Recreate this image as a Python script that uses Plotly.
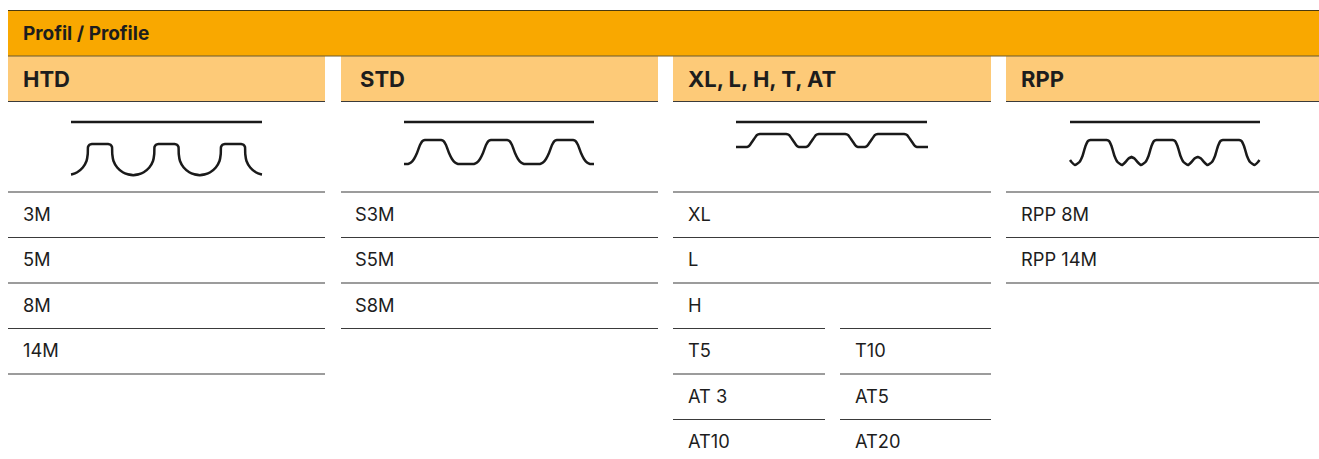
import plotly.graph_objects as go

TITLE = "Profil / Profile"
GROUPS = ["HTD", "STD", "XL, L, H, T, AT", "RPP"]
GROUP_X0 = [8, 341, 673, 1006]
GROUP_X1 = [325, 658, 991, 1319]
ROW_LINES = [192, 237.5, 283, 328.5, 374, 419.5]
ROW_TEXT_Y = [214, 259, 305, 350, 396, 441]

HTD_ROWS = ["3M", "5M", "8M", "14M"]
STD_ROWS = ["S3M", "S5M", "S8M"]
XL_ROWS = ["XL", "L", "H"]
XL_LEFT = ["T5", "AT 3", "AT10"]
XL_RIGHT = ["T10", "AT5", "AT20"]
RPP_ROWS = ["RPP 8M", "RPP 14M"]

# Tooth half profiles: offset from tooth centre, and height on the picture
HTD_DX = [0, 8, 10.5, 12, 12.25, 13.5, 17.2, 22.75, 27.8, 33.25]
HTD_Y = [144, 144, 144.8, 147, 154, 161, 167.5, 172.2, 174.3, 175.3]
HTD_TAIL_DX = [29]
HTD_TAIL_Y = [174.5]
HTD_TEETH = [100, 166.5, 233]

STD_DX = [0, 8, 10.5, 13, 16, 19, 22, 25, 33]
STD_Y = [140, 140, 141, 145, 153, 159, 162.5, 164, 164]
STD_TAIL_DX = [29]
STD_TAIL_Y = [164]
STD_TEETH = [433, 499, 565]

XL_DX = [0, 13, 16, 19, 24, 26, 29.5]
XL_Y = [134, 134, 135, 139, 146, 147, 147]
XL_TAIL_DX = [37]
XL_TAIL_Y = [147]
XL_TEETH = [773, 832, 891]

RPP_DX = [0, 8, 10.5, 13, 16, 19, 23.5, 27, 30, 33]
RPP_Y = [140, 140, 141, 146, 156, 162, 165, 162, 158.5, 157]
RPP_TAIL_DX = [28.5]
RPP_TAIL_Y = [160]
RPP_TEETH = [1098.5, 1164.5, 1231]

BELT_Y = 122
BELT_SPANS = [(71, 262), (404, 594), (736, 927), (1070, 1260)]

ORANGE = "#F9A800"
LIGHT = "#FDCA78"
DARK = "#1d1d1d"
GRID = "#3a3a3a"
FONT = "Inter"


def profile(teeth, dx, y, tail_dx, tail_y):
    xs, ys = [], []
    last = len(teeth) - 1
    for i, c in enumerate(teeth):
        keep_l = [(a, b) for a, b in zip(dx, y) if i > 0 or a < tail_dx[0]]
        keep_r = [(a, b) for a, b in zip(dx, y) if i < last or a < tail_dx[0]]
        left = [(-a, b) for a, b in keep_l]
        if i == 0:
            left += [(-a, b) for a, b in zip(tail_dx, tail_y)]
        for a, b in reversed(left):
            xs.append(c + a)
            ys.append(b)
        for a, b in keep_r[1:]:
            xs.append(c + a)
            ys.append(b)
        if i == last:
            for a, b in zip(tail_dx, tail_y):
                xs.append(c + a)
                ys.append(b)
    return xs, ys


fig = go.Figure()
shapes = []
ann = []


def hline(x0, x1, y, color=GRID, w=1.1):
    fig.add_trace(go.Scatter(x=[x0, x1], y=[y, y], mode="lines",
                             line=dict(color=color, width=w),
                             hoverinfo="skip", showlegend=False))


def label(x, y, text, size=18.3, bold=False):
    ann.append(dict(x=x - 2, y=y, text=f"<b>{text}</b>" if bold else text,
                    xref="x", yref="y", xanchor="left", yanchor="middle",
                    showarrow=False, font=dict(family=FONT, size=size, color=DARK)))


shapes.append(dict(type="rect", x0=8, x1=1319, y0=10.5, y1=56, fillcolor=ORANGE,
                   line_width=0, layer="below"))
for x0, x1 in zip(GROUP_X0, GROUP_X1):
    shapes.append(dict(type="rect", x0=x0, x1=x1, y0=56, y1=101.5, fillcolor=LIGHT,
                       line_width=0, layer="below"))
    hline(x0, x1, 101.5)
hline(8, 1319, 10.5, "#4a3a10", 1.2)
hline(8, 1319, 56, "#6b5a30", 1.2)

label(23, 33, TITLE, 19, True)
for g, x0 in zip(GROUPS, GROUP_X0):
    label(x0 + (19 if g == "STD" else 15), 79, g, 22, True)

for g, rows, x0, x1 in [(0, HTD_ROWS, 8, 325), (1, STD_ROWS, 341, 658),
                        (2, XL_ROWS, 673, 991), (3, RPP_ROWS, 1006, 1319)]:
    hline(x0, x1, ROW_LINES[0])
    for i, t in enumerate(rows):
        label(x0 + (14 if g == 1 else 15), ROW_TEXT_Y[i], t)
        if g == 2 and i == len(rows) - 1:
            continue
        hline(x0, x1, ROW_LINES[i + 1])

for i, (a, b) in enumerate(zip(XL_LEFT, XL_RIGHT)):
    r = i + 3
    hline(673, 825, ROW_LINES[r])
    hline(840, 991, ROW_LINES[r])
    label(688, ROW_TEXT_Y[r], a)
    label(855, ROW_TEXT_Y[r], b)

for x0, x1 in BELT_SPANS:
    hline(x0, x1, BELT_Y, "#1a1a1a", 2.4)

for teeth, dx, y, tx, ty in [
    (HTD_TEETH, HTD_DX, HTD_Y, HTD_TAIL_DX, HTD_TAIL_Y),
    (STD_TEETH, STD_DX, STD_Y, STD_TAIL_DX, STD_TAIL_Y),
    (XL_TEETH, XL_DX, XL_Y, XL_TAIL_DX, XL_TAIL_Y),
    (RPP_TEETH, RPP_DX, RPP_Y, RPP_TAIL_DX, RPP_TAIL_Y),
]:
    xs, ys = profile(teeth, dx, y, tx, ty)
    fig.add_trace(go.Scatter(x=xs, y=ys, mode="lines",
                             line=dict(color="#1a1a1a", width=2.5, shape="spline", smoothing=0.35),
                             hoverinfo="skip", showlegend=False))

fig.update_layout(
    width=1319, height=459, margin=dict(l=0, r=0, t=0, b=0),
    paper_bgcolor="white", plot_bgcolor="white",
    xaxis=dict(range=[0, 1319], visible=False, fixedrange=True),
    yaxis=dict(range=[459, 0], visible=False, fixedrange=True),
    shapes=shapes, annotations=ann, showlegend=False,
)
fig.write_html("out.html", config={"displayModeBar": False, "staticPlot": True},
               post_script="document.body.style.margin='0';document.body.style.overflow='hidden';")
